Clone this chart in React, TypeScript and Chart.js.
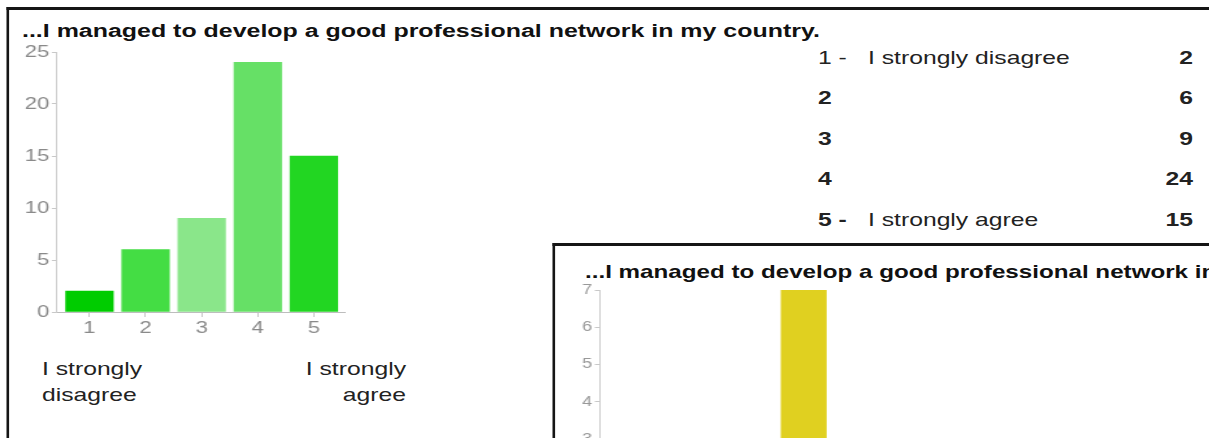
import React, { useEffect, useRef } from "react";
import { Chart, registerables } from "chart.js";

Chart.register(...registerables);

// horizontal stretch of the whole reference picture
const SX = 1.3;
const FONT = "'Liberation Sans', Arial, Helvetica, sans-serif";

// ---- data ----
const chartTitle = "...I managed to develop a good professional network in my country.";
const categories = ["1", "2", "3", "4", "5"];
const counts = [2, 6, 9, 24, 15];
const barColors = ["#00cc00", "#44dd44", "#8ae68a", "#66e066", "#22d622"];
const yTickValues = [0, 5, 10, 15, 20, 25];

const minLabel = ["I strongly", "disagree"];
const maxLabel = ["I strongly", "agree"];

const rowLabels = ["1 -", "2", "3", "4", "5 -"];
const rowTexts = ["I strongly disagree", "", "", "", "I strongly agree"];
const rowCounts = [2, 6, 9, 24, 15];

const chartTitle2 = "...I managed to develop a good professional network in my country.";
const categories2 = ["1", "2", "3", "4", "5"];
const counts2 = [1, 2, 2, 7, 1];
const barColors2 = ["#e04a20", "#e08a20", "#e0b020", "#e0d020", "#c8d820"];
const yTickValues2 = [0, 1, 2, 3, 4, 5, 6, 7];

type BarProps = {
  left: number;
  top: number;
  width: number;
  height: number;
  labels: string[];
  values: number[];
  colors: string[];
  ticks: number[];
  yWidth: number;
  padRight: number;
  padTop: number;
  xHeight: number;
  tickSize: number;
  tickColor: string;
  barPct: number;
  xRange?: [number, number];
  barThick?: number;
};

function BarChart(p: BarProps) {
  const ref = useRef<HTMLCanvasElement | null>(null);
  useEffect(() => {
    if (!ref.current) return;
    const step = p.ticks[1] - p.ticks[0];
    const linear = !!p.xRange;
    const data: any = linear ? p.values.map((v, i) => ({ x: Number(p.labels[i]), y: v })) : p.values;
    const xScale: any = linear
      ? {
          type: "linear",
          min: p.xRange![0],
          max: p.xRange![1],
          offset: false,
          afterBuildTicks: (s: any) => {
            s.ticks = p.labels.map((l) => ({ value: Number(l) }));
          },
        }
      : { offset: true };
    const chart = new Chart(ref.current, {
      type: "bar",
      data: {
        labels: linear ? undefined : p.labels,
        datasets: [
          {
            data,
            backgroundColor: p.colors,
            borderWidth: 0,
            barPercentage: p.barPct,
            categoryPercentage: 1,
            ...(p.barThick ? { barThickness: p.barThick } : {}),
          },
        ],
      } as any,
      options: {
        animation: false,
        responsive: false,
        devicePixelRatio: 1,
        layout: { padding: { left: 0, right: p.padRight, top: p.padTop, bottom: 0 } },
        plugins: { legend: { display: false }, tooltip: { enabled: false }, title: { display: false } },
        scales: {
          x: {
            ...xScale,
            grid: { offset: false, drawOnChartArea: false, drawTicks: true, tickLength: 5, color: "#c8c8c8" },
            border: { display: true, color: "#bdbdbd", width: 1 },
            ticks: {
              color: p.tickColor,
              font: { family: FONT, size: p.tickSize },
              padding: 1,
              maxRotation: 0,
              autoSkip: false,
              includeBounds: false,
            },
            afterFit: (s: any) => {
              s.height = p.xHeight;
            },
          },
          y: {
            min: p.ticks[0],
            max: p.ticks[p.ticks.length - 1],
            ticks: { stepSize: step, color: p.tickColor, font: { family: FONT, size: p.tickSize }, padding: 2 },
            grid: { drawOnChartArea: false, drawTicks: true, tickLength: 4, color: "#c8c8c8" },
            border: { display: true, color: "#cccccc", width: 1 },
            afterFit: (s: any) => {
              s.width = p.yWidth;
            },
          },
        },
      } as any,
    });
    return () => chart.destroy();
  }, []);
  return (
    <canvas
      ref={ref}
      width={p.width}
      height={p.height}
      style={{ position: "absolute", left: p.left, top: p.top, width: p.width, height: p.height }}
    />
  );
}

const abs = (o: React.CSSProperties): React.CSSProperties => ({ position: "absolute", whiteSpace: "nowrap", ...o });

export default function App() {
  const nx = (x: number) => x / SX; // screen x -> natural x
  return (
    <div
      style={{
        position: "fixed",
        left: 0,
        top: 0,
        width: 1209,
        height: 438,
        overflow: "hidden",
        background: "#ffffff",
        fontFamily: FONT,
      }}
    >
      <div
        style={{
          position: "absolute",
          left: 0,
          top: 0,
          width: 1209 / SX,
          height: 438,
          transform: `scaleX(${SX})`,
          transformOrigin: "0 0",
        }}
      >
        {/* main panel */}
        <div
          style={abs({
            left: nx(7),
            top: 7,
            width: 1200,
            height: 1000,
            borderTop: "3px solid #151515",
            borderLeft: "2.3px solid #151515",
            background: "#ffffff",
          })}
        />
        <div style={abs({ left: nx(22), top: 20.5, fontSize: 19.2, lineHeight: "19px", fontWeight: 700, color: "#111" })}>
          {chartTitle}
        </div>
        <BarChart
          left={0}
          top={0}
          width={340}
          height={345}
          labels={categories}
          values={counts}
          colors={barColors}
          ticks={yTickValues}
          yWidth={nx(57)}
          padRight={340 - nx(345)}
          padTop={52}
          xHeight={33}
          tickSize={17}
          tickColor="#8a8a8a"
          barPct={0.84}
          xRange={[0.421, 5.555]}
          barThick={nx(47.5)}
        />
        <div style={abs({ left: nx(42), top: 356, fontSize: 19, lineHeight: "26px", color: "#222" })}>
          {minLabel.map((t, i) => (
            <div key={i}>{t}</div>
          ))}
        </div>
        <div
          style={abs({
            left: 200,
            width: nx(406) - 200,
            top: 356,
            fontSize: 19,
            lineHeight: "26px",
            color: "#222",
            textAlign: "right",
          })}
        >
          {maxLabel.map((t, i) => (
            <div key={i}>{t}</div>
          ))}
        </div>

        {/* table */}
        {rowLabels.map((lab, i) => (
          <React.Fragment key={i}>
            <div
              style={abs({
                left: nx(818),
                top: 47.5 + i * 40.5,
                fontSize: 19,
                lineHeight: "19px",
                fontWeight: i === 0 ? 400 : 700,
                color: "#222",
              })}
            >
              {lab}
            </div>
            {rowTexts[i] ? (
              <div style={abs({ left: nx(868), top: 47.5 + i * 40.5, fontSize: 19, lineHeight: "19px", color: "#222" })}>
                {rowTexts[i]}
              </div>
            ) : null}
            <div
              style={abs({
                left: nx(1100),
                width: nx(1193) - nx(1100),
                top: 47.5 + i * 40.5,
                fontSize: 19,
                lineHeight: "19px",
                fontWeight: 700,
                color: "#222",
                textAlign: "right",
              })}
            >
              {rowCounts[i]}
            </div>
          </React.Fragment>
        ))}

        {/* second (overlapping) panel */}
        <div
          style={abs({
            left: nx(553),
            top: 243,
            width: 1200,
            height: 1000,
            borderTop: "3px solid #151515",
            borderLeft: "2.3px solid #151515",
            background: "#ffffff",
          })}
        />
        <div style={abs({ left: nx(585), top: 262, fontSize: 18.6, lineHeight: "19px", fontWeight: 700, color: "#111" })}>
          {chartTitle2}
        </div>
        <BarChart
          left={430}
          top={250}
          width={300}
          height={334}
          labels={categories2}
          values={counts2}
          colors={barColors2}
          ticks={yTickValues2}
          yWidth={nx(600) - 430}
          padRight={300 - nx(891) + 430}
          padTop={40}
          xHeight={33}
          tickSize={14}
          tickColor="#999999"
          barPct={0.79}
        />
      </div>
    </div>
  );
}
